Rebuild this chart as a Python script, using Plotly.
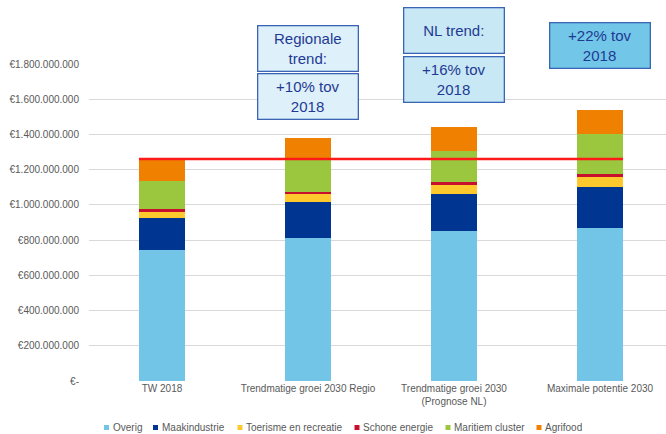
import plotly.graph_objects as go

# ---------------- data ----------------
categories = ["TW 2018", "Trendmatige groei 2030 Regio",
              "Trendmatige groei 2030<br>(Prognose NL)", "Maximale potentie 2030"]
series_names = ["Overig", "Maakindustrie", "Toerisme en recreatie",
                "Schone energie", "Maritiem cluster", "Agrifood"]
overig = [742e6, 814e6, 854e6, 871e6]
maakindustrie = [182e6, 204e6, 206e6, 229e6]
toerisme = [41e6, 44e6, 51e6, 60e6]
schone_energie = [11e6, 13e6, 17e6, 14e6]
maritiem = [159e6, 180e6, 180e6, 230e6]
agrifood = [125e6, 127e6, 132e6, 137e6]
series_values = [overig, maakindustrie, toerisme, schone_energie, maritiem, agrifood]
baseline_2018 = sum(v[0] for v in series_values)  # red reference line

y_tick_values = [0, 200e6, 400e6, 600e6, 800e6, 1000e6, 1200e6, 1400e6, 1600e6, 1800e6]
y_tick_labels = ["€-", "€200.000.000", "€400.000.000", "€600.000.000", "€800.000.000",
                 "€1.000.000.000", "€1.200.000.000", "€1.400.000.000",
                 "€1.600.000.000", "€1.800.000.000"]

box_texts = [["Regionale<br>trend:", "+10% tov<br>2018"],
             ["NL trend:", "+16% tov<br>2018"],
             ["+22% tov<br>2018"]]

# ---------------- styles / layout ----------------
colors = ["#73C5E7", "#003591", "#FFC82D", "#C8102E", "#9BC73F", "#F08100"]
W, H = 666, 434
ML, MR, MT, MB = 89, 0, 64, 53
PW, PH = W - ML - MR, H - MT - MB
FONT = "Liberation Sans, Arial, sans-serif"
GRAY = "#595959"
BOX_TEXT = "#1F3A93"
BOX_BORDER = "#3A64B4"

def px_x(px):
    return (px - ML) / PW

def px_y(py):
    return (H - MB - py) / PH

fig = go.Figure()
for name, vals, col in zip(series_names, series_values, colors):
    fig.add_trace(go.Bar(x=list(range(len(categories))), y=vals, name=name,
                         marker=dict(color=col, line=dict(width=0)),
                         width=0.315, showlegend=False))

bar_half = 0.315 / 2
fig.add_shape(type="line", xref="x", yref="y", x0=-bar_half, x1=len(categories) - 1 + bar_half,
              y0=baseline_2018, y1=baseline_2018,
              line=dict(color="#FF1A1A", width=2.5), layer="above")

# text boxes (category index, centre y in px, width, height, fill)
box_specs = [
    (1, 48, 99, 44, "#DEF0FA", box_texts[0][0]),
    (1, 96, 99, 44, "#DEF0FA", box_texts[0][1]),
    (2, 30.5, 99, 44, "#C8E8F5", box_texts[1][0]),
    (2, 79.5, 99, 44, "#C8E8F5", box_texts[1][1]),
    (3, 46, 99, 44, "#72C6E8", box_texts[2][0]),
]
for cx, cy, bw, bh, fill, txt in box_specs:
    fig.add_annotation(x=cx, xref="x", y=px_y(cy), yref="paper", text=txt,
                       showarrow=False, width=bw, height=bh, borderpad=0,
                       bgcolor=fill, bordercolor=BOX_BORDER, borderwidth=1.3,
                       font=dict(family=FONT, size=15, color=BOX_TEXT),
                       xanchor="center", yanchor="middle", align="center", valign="middle")

# legend (manual, compact like the original)
legend_px = [104, 153, 237.5, 354.5, 445.5, 536.5]
ly = 427.5
for name, col, lx in zip(series_names, colors, legend_px):
    fig.add_shape(type="rect", xref="paper", yref="paper",
                  x0=px_x(lx), x1=px_x(lx + 5), y0=px_y(ly + 2.5), y1=px_y(ly - 2.5),
                  fillcolor=col, line=dict(width=0))
    fig.add_annotation(x=px_x(lx + 6.5), y=px_y(ly), xref="paper", yref="paper",
                       text=name, showarrow=False, xanchor="left", yanchor="middle",
                       font=dict(family=FONT, size=10, color=GRAY))

fig.update_layout(
    width=W, height=H, margin=dict(l=ML, r=MR, t=MT, b=MB, pad=0),
    barmode="stack", bargap=0,
    plot_bgcolor="white", paper_bgcolor="white",
    font=dict(family=FONT, size=10, color=GRAY),
    showlegend=False,
)
fig.update_xaxes(range=[-0.5, -0.5 + PW / 146.0], tickmode="array",
                 tickvals=list(range(len(categories))), ticktext=categories,
                 showgrid=False, zeroline=False, showline=False, ticks="",
                 tickfont=dict(family=FONT, size=10, color=GRAY))
fig.update_yaxes(range=[0, 1800e6], tickmode="array", tickvals=y_tick_values,
                 ticktext=y_tick_labels, showgrid=True, gridcolor="#D9D9D9", gridwidth=1,
                 zeroline=False, showline=False, ticks="", ticklabelstandoff=9,
                 tickfont=dict(family=FONT, size=10, color=GRAY))

fig.write_html("out.html", config={"displayModeBar": False},
               post_script="document.body.style.margin='0';document.body.style.overflow='hidden';")
